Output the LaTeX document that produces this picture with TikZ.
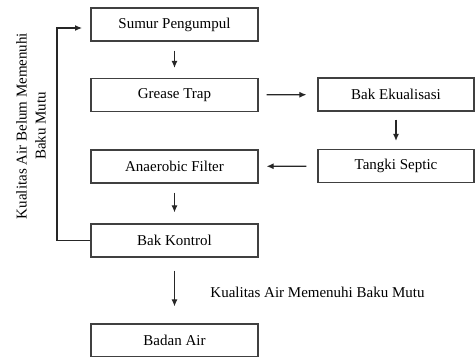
\documentclass[tikz,border=0pt]{standalone}
\usepackage{fontspec}
\setmainfont{Liberation Serif}
\usetikzlibrary{arrows.meta}
\begin{document}
\begin{tikzpicture}[x=1pt,y=-1pt,
  box/.style={draw=black!75,line width=1.2pt,minimum width=167pt,minimum height=33pt,inner sep=0pt,font=\fontsize{15}{18}\selectfont},
  rbox/.style={box,minimum width=156pt},
  arr/.style={draw=black!85,line width=1.1pt,-{Latex[length=7pt,width=6pt]}},
  lbl/.style={font=\fontsize{15}{19}\selectfont,align=center,inner sep=0pt}]
\useasboundingbox (0,0) rectangle (476,356);
\node[box] (s) at (174.5,24.5) {Sumur Pengumpul};
\node[box] (g) at (174.5,95) {Grease Trap};
\node[box] (a) at (174.5,166.5) {Anaerobic Filter};
\node[box] (k) at (174.5,240.5) {Bak Kontrol};
\node[box] (b) at (174.5,340.5) {Badan Air};
\node[rbox] (e) at (396,94.5) {Bak Ekualisasi};
\node[rbox] (t) at (396,166) {Tangki Septic};
\draw[arr,shorten <=9pt,shorten >=10pt] (s) -- (g);
\draw[arr,shorten <=8pt,shorten >=11pt] (g) -- (e);
\draw[arr,shorten <=8pt,shorten >=8pt] (e) -- (t);
\draw[arr,shorten <=11pt,shorten >=8pt] (t) -- (a);
\draw[arr,shorten <=9pt,shorten >=11pt] (a) -- (k);
\draw[arr,shorten <=13pt,shorten >=17pt] (k) -- (b);
\coordinate (fb1) at (57,240.5);
\coordinate (fb2) at (57,28);
\coordinate (fb3) at (91,28);
\draw[arr,shorten >=9pt] (k.west) -- (fb1) -- (fb2) -- (fb3);
\node[lbl,rotate=90] (l1) at (31,126) {Kualitas Air Belum Memenuhi\\Baku Mutu};
\node[lbl] (l2) at (317.5,292) {Kualitas Air Memenuhi Baku Mutu};
\end{tikzpicture}
\end{document}
